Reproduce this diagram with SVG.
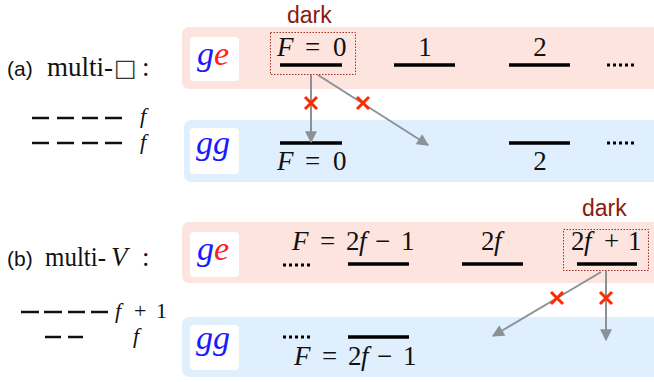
<svg xmlns="http://www.w3.org/2000/svg" width="654" height="382" viewBox="0 0 654 382">
<style>
.pink{fill:#fde4df}
.blue{fill:#dfeffd}
.wbox{fill:#ffffff}
.math{font-family:"Liberation Serif","Times New Roman",serif;font-size:27px;fill:#111}
.it{font-style:italic}
.sans{font-family:"Liberation Sans",Arial,sans-serif;font-size:21px;fill:#111}
.dark{font-family:"Liberation Sans",Arial,sans-serif;font-size:23px;fill:#8b1a10}
.lev{stroke:#000;stroke-width:3.5}
.dash{stroke:#111;stroke-width:2.5}
.dots{stroke:#000;stroke-width:3;stroke-dasharray:3 3}
.darkbox{fill:none;stroke:#a03020;stroke-width:1;stroke-dasharray:1.5 1.5}
.conn{stroke:#8a9296;stroke-width:2;fill:none}
.cross{stroke:#ff2a00;stroke-width:3}
.gl{font-family:"Liberation Serif","Times New Roman",serif;font-style:italic;font-size:34px}
.leg{font-size:22px}
</style>
<defs>
<marker id="ah" viewBox="0 0 10 10" refX="9" refY="5" markerWidth="13" markerHeight="12" markerUnits="userSpaceOnUse" orient="auto">
<path d="M0,0 L10,5 L0,10 Z" fill="#8a9296"/>
</marker>
</defs>

<!-- panel a -->
<g id="label-a">
<text class="sans" x="7" y="76">(a)</text>
<text class="math" x="47" y="76" textLength="66" lengthAdjust="spacingAndGlyphs">multi-</text>
<text x="114" y="76" style="font-family:'DejaVu Sans',sans-serif;font-size:24px;fill:#333">□</text>
<text class="math" x="142" y="76">:</text>
</g>
<g id="legend-a">
<line class="dash" x1="32" y1="118" x2="49" y2="118"/><line class="dash" x1="57" y1="118" x2="74" y2="118"/><line class="dash" x1="82" y1="118" x2="98" y2="118"/><line class="dash" x1="105" y1="118" x2="122" y2="118"/>
<line class="dash" x1="32" y1="143" x2="49" y2="143"/><line class="dash" x1="57" y1="143" x2="74" y2="143"/><line class="dash" x1="82" y1="143" x2="98" y2="143"/><line class="dash" x1="105" y1="143" x2="122" y2="143"/>
<text class="math it leg" x="140" y="123">f</text>
<text class="math it leg" x="140" y="149">f</text>
</g>
<g id="ge-a">
<rect class="pink" x="182" y="27" width="480" height="62" rx="7"/>
<rect class="wbox" x="190" y="37" width="49" height="44" rx="4"/>
<text class="gl" x="197" y="65"><tspan fill="#1a1aff">g</tspan><tspan fill="#ff2020">e</tspan></text>
</g>
<g id="gg-a">
<rect class="blue" x="184" y="120" width="480" height="62" rx="7"/>
<rect class="wbox" x="190" y="128" width="49" height="46" rx="4"/>
<text class="gl" x="196" y="154" fill="#1a1aff">gg</text>
</g>
<g id="a-ge-F0">
<rect class="darkbox" x="270.5" y="32.5" width="85" height="42"/>
<text class="dark" x="287" y="23">dark</text>
<text class="math"><tspan class="it" x="277" y="56">F</tspan><tspan x="305" y="56">=</tspan><tspan x="333" y="56">0</tspan></text>
<line class="lev" x1="280" y1="65" x2="342" y2="65"/>
</g>
<g id="a-ge-1">
<text class="math" x="425" y="56" text-anchor="middle">1</text>
<line class="lev" x1="394" y1="65" x2="455" y2="65"/>
</g>
<g id="a-ge-2">
<text class="math" x="540" y="56" text-anchor="middle">2</text>
<line class="lev" x1="509" y1="65" x2="570" y2="65"/>
</g>
<g id="a-ge-dots"><line class="dots" x1="607" y1="65" x2="637" y2="65"/></g>
<g id="a-gg-F0">
<line class="lev" x1="280" y1="143" x2="342" y2="143"/>
<text class="math"><tspan class="it" x="277" y="170">F</tspan><tspan x="305" y="170">=</tspan><tspan x="333" y="170">0</tspan></text>
</g>
<g id="a-gg-2">
<line class="lev" x1="509" y1="143" x2="570" y2="143"/>
<text class="math" x="540" y="170" text-anchor="middle">2</text>
</g>
<g id="a-gg-dots"><line class="dots" x1="607" y1="143" x2="637" y2="143"/></g>

<!-- panel b -->
<g id="label-b">
<text class="sans" x="7" y="266">(b)</text>
<text class="math" x="45" y="266" textLength="61" lengthAdjust="spacingAndGlyphs">multi-</text>
<text class="math it" x="111" y="266">V</text>
<text class="math" x="142" y="266">:</text>
</g>
<g id="legend-b">
<line class="dash" x1="21" y1="312" x2="39" y2="312"/><line class="dash" x1="44" y1="312" x2="62" y2="312"/><line class="dash" x1="68" y1="312" x2="85" y2="312"/><line class="dash" x1="91" y1="312" x2="108" y2="312"/>
<line class="dash" x1="45" y1="337" x2="61" y2="337"/><line class="dash" x1="68" y1="337" x2="83" y2="337"/>
<text class="math leg" x="115" y="318"><tspan class="it">f</tspan><tspan x="134">+</tspan><tspan x="156">1</tspan></text>
<text class="math it leg" x="133" y="343">f</text>
</g>
<g id="ge-b">
<rect class="pink" x="182" y="222" width="480" height="61" rx="7"/>
<rect class="wbox" x="190" y="232" width="49" height="45" rx="4"/>
<text class="gl" x="197" y="260"><tspan fill="#1a1aff">g</tspan><tspan fill="#ff2020">e</tspan></text>
</g>
<g id="gg-b">
<rect class="blue" x="182" y="317" width="480" height="60" rx="7"/>
<rect class="wbox" x="190" y="325" width="49" height="45" rx="4"/>
<text class="gl" x="196" y="349" fill="#1a1aff">gg</text>
</g>
<g id="b-ge-dots"><line class="dots" x1="283" y1="265" x2="313" y2="265"/></g>
<g id="b-ge-2fm1">
<text class="math"><tspan class="it" x="292" y="250">F</tspan><tspan x="320" y="250">=</tspan><tspan x="346" y="250">2</tspan><tspan class="it" x="359" y="250">f</tspan><tspan x="375" y="250">−</tspan><tspan x="401" y="250">1</tspan></text>
<line class="lev" x1="348" y1="264" x2="409" y2="264"/>
</g>
<g id="b-ge-2f">
<text class="math"><tspan x="481" y="250">2</tspan><tspan class="it" x="494" y="250">f</tspan></text>
<line class="lev" x1="462" y1="264" x2="523" y2="264"/>
</g>
<g id="b-ge-2fp1">
<rect class="darkbox" x="563.5" y="229.5" width="85" height="41"/>
<text class="dark" x="582" y="216">dark</text>
<text class="math"><tspan x="571" y="250">2</tspan><tspan class="it" x="584" y="250">f</tspan><tspan x="604" y="250">+</tspan><tspan x="628" y="250">1</tspan></text>
<line class="lev" x1="577" y1="264" x2="637" y2="264"/>
</g>
<g id="b-gg-dots"><line class="dots" x1="283" y1="337" x2="313" y2="337"/></g>
<g id="b-gg-2fm1">
<line class="lev" x1="348" y1="337" x2="409" y2="337"/>
<text class="math"><tspan class="it" x="294" y="365">F</tspan><tspan x="322" y="365">=</tspan><tspan x="348" y="365">2</tspan><tspan class="it" x="361" y="365">f</tspan><tspan x="377" y="365">−</tspan><tspan x="403" y="365">1</tspan></text>
</g>

<!-- connectors -->
<g id="connectors">
<line class="conn" x1="311" y1="75" x2="311" y2="142" marker-end="url(#ah)"/>
<line class="conn" x1="318" y1="75" x2="428" y2="145" marker-end="url(#ah)"/>
<line class="conn" x1="606" y1="271" x2="606" y2="340" marker-end="url(#ah)"/>
<line class="conn" x1="601" y1="272" x2="493" y2="336" marker-end="url(#ah)"/>
<g id="crosses">
<path class="cross" d="M305,97 L317,109 M317,97 L305,109"/>
<path class="cross" d="M357,97 L369,109 M369,97 L357,109"/>
<path class="cross" d="M551,292 L563,304 M563,292 L551,304"/>
<path class="cross" d="M600,292 L612,304 M612,292 L600,304"/>
</g>
</g>
</svg>
